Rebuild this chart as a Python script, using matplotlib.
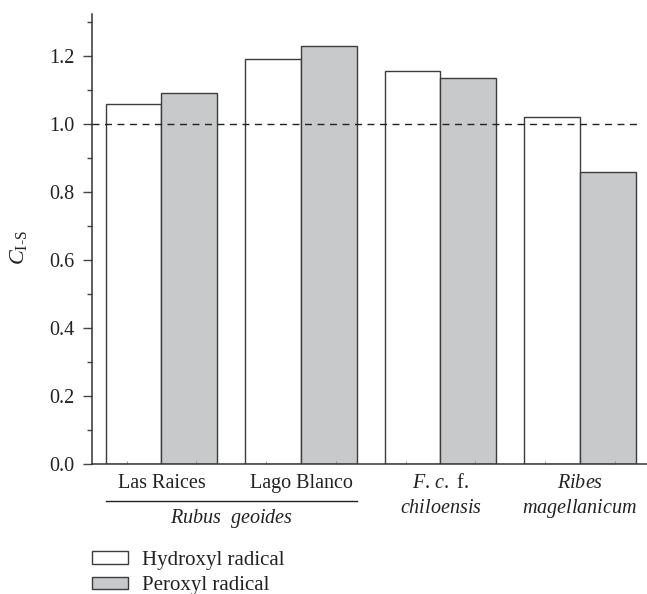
import matplotlib
matplotlib.use('Agg')
import matplotlib.pyplot as plt
import matplotlib.transforms as mtransforms
from matplotlib.ticker import MultipleLocator
import numpy as np

plt.rcParams['font.family'] = ['Liberation Serif', 'DejaVu Serif']
plt.rcParams['mathtext.fontset'] = 'custom'
plt.rcParams['mathtext.rm'] = 'Liberation Serif'
plt.rcParams['mathtext.it'] = 'Liberation Serif:italic'

# data
groups = ['Las Raices', 'Lago Blanco', r'$\mathit{F.\,c.}$ f.' + '\n' + r'$\mathit{chiloensis}$',
          r'$\mathit{Ribes}$' + '\n' + r'$\mathit{magellanicum}$']
hydroxyl = [1.06, 1.19, 1.155, 1.02]
peroxyl = [1.09, 1.23, 1.135, 0.86]
series_names = ['Hydroxyl radical', 'Peroxyl radical']
reference_level = 1.0

fs = 14.5
edge = '#3c3c3c'
x = np.arange(len(groups))
w = 0.4

fig = plt.figure(figsize=(6.47, 5.94), dpi=100)
ax = fig.add_axes([0.1417, 0.2189, 0.8583, 0.7575])

b1 = ax.bar(x - w/2, hydroxyl, w, color='white', edgecolor=edge, linewidth=1.0, label=series_names[0])
b2 = ax.bar(x + w/2, peroxyl, w, color='#c8c9cb', edgecolor=edge, linewidth=1.0, label=series_names[1])
ax.axhline(reference_level, xmax=0.99, color='#222222', lw=1.0, ls=(0, (5, 4)), zorder=5)

ax.set_xlim(-0.5, 3.48)
ax.set_ylim(0, 1.3235)
ax.yaxis.set_minor_locator(MultipleLocator(0.1))
ax.set_yticks(np.arange(0, 1.21, 0.2))
ax.set_yticklabels(['%.1f' % v for v in np.arange(0, 1.21, 0.2)])
ax.tick_params(axis='y', which='major', length=6.5, width=1.0, pad=6, labelsize=fs,
               color='#444444', labelcolor='#222222')
ax.tick_params(axis='y', which='minor', length=3.3, width=1.0, color='#444444')
ax.set_xticks(np.arange(-0.25, 3.5, 0.5))
ax.set_xticklabels([])
ax.tick_params(axis='x', which='major', direction='in', length=2, width=0.6, color='#888888')

for s in ['top', 'right']:
    ax.spines[s].set_visible(False)
for s in ['left', 'bottom']:
    ax.spines[s].set_color('#333333')
    ax.spines[s].set_linewidth(1.1)

ax.set_ylabel(r'$\mathit{C}_{\mathrm{I\text{-}S}}$', fontsize=fs + 1.5, color='#222222')
ax.yaxis.set_label_coords(-0.112, 0.48)

# category labels under the axis
trans = mtransforms.blended_transform_factory(ax.transData, ax.transAxes)
tc = '#222222'
ax.text(x[0], -0.0533, groups[0], transform=trans, ha='center', va='baseline', fontsize=fs, color=tc)
ax.text(x[1], -0.0533, groups[1], transform=trans, ha='center', va='baseline', fontsize=fs, color=tc)
for i in (2, 3):
    top, bottom = groups[i].split('\n')
    ax.text(x[i], -0.0533, top, transform=trans, ha='center', va='baseline', fontsize=fs, color=tc)
    ax.text(x[i], -0.1089, bottom, transform=trans, ha='center', va='baseline', fontsize=fs, color=tc)
ax.plot([-0.4, 1.4], [-0.0822, -0.0822], transform=trans, color='#222222', lw=1.0, clip_on=False)
ax.text(0.5, -0.131, r'$\mathit{Rubus\ \ geoides}$', transform=trans, ha='center', va='baseline',
        fontsize=fs, color=tc)

leg = fig.legend(handles=[b1, b2], loc='upper left', bbox_to_anchor=(0.1417, 0.073), frameon=False,
                 fontsize=fs + 0.5, handlelength=1.75, handleheight=0.55, handletextpad=0.65,
                 labelspacing=0.32, borderpad=0, borderaxespad=0)
for t in leg.get_texts():
    t.set_color(tc)

fig.savefig('out.png', dpi=100)
